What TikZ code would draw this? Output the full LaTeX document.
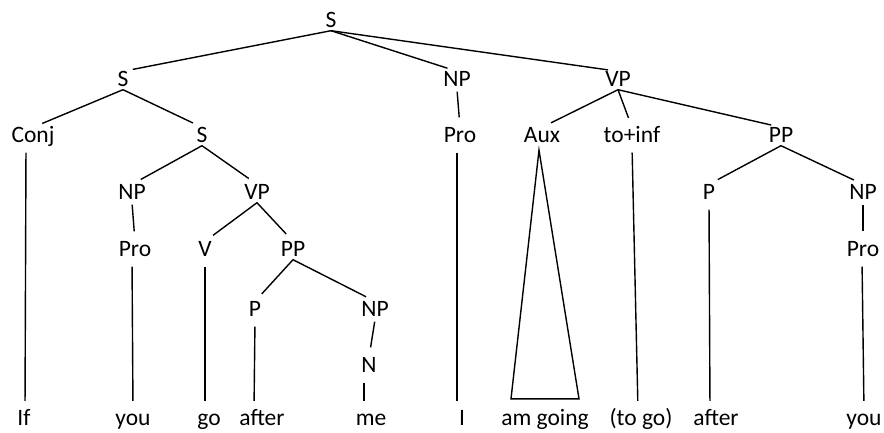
\documentclass[tikz,border=0pt]{standalone}
\usepackage{fontspec}
\setmainfont{Carlito}
\usepackage{tikz}

\begin{document}
\begin{tikzpicture}[x=1pt,y=-1pt,
	cat/.style={anchor=base,inner sep=0pt,text height=15pt,text depth=3pt,font=\fontsize{23.5}{28}\selectfont},
	branch/.style={line width=1.4pt,shorten >=10pt},
	unary/.style={line width=1.4pt,shorten <=2pt,shorten >=10pt},
	stem/.style={line width=1.4pt,shorten <=7pt,shorten >=9pt}]
	\useasboundingbox (0,0) rectangle (884,432);
	%CATEGORIES
	\node[cat] (s0) at (331,27.5) {S};
	%
	\node[cat] (s1) at (123,86.5) {S};
	\node[cat] (np) at (457,86.5) {NP};
	\node[cat] (vp) at (618,86.5) {VP};
	%
	\node[cat] (conj) at (33,142.5) {Conj};
	\node[cat] (s2) at (202,142.5) {S};
	\node[cat] (pro) at (460,142.5) {Pro};
	\node[cat] (aux) at (542,142.5) {Aux};
	\node[cat] (toinf) at (632,142.5) {to+inf};
	\node[cat] (pp) at (781,142.5) {PP};
	%
	\node[cat] (npa) at (132,199.5) {NP};
	\node[cat] (vpa) at (257,199.5) {VP};
	\node[cat] (pb) at (709,199.5) {P};
	\node[cat] (npb) at (863,199.5) {NP};
	%
	\node[cat] (proa) at (135,256.5) {Pro};
	\node[cat] (v) at (205,256.5) {V};
	\node[cat] (ppa) at (293,256.5) {PP};
	\node[cat] (prob) at (863,256.5) {Pro};
	%
	\node[cat] (pa) at (255,316.5) {P};
	\node[cat] (npc) at (375,316.5) {NP};
	\node[cat] (n) at (369,372.5) {N};
	
	%WORDS
	\node[cat] (if) at (24,425) {If};
	\node[cat] (youa) at (133,425) {you};
	\node[cat] (go) at (209,425) {go};
	\node[cat] (aftera) at (262,425) {after};
	\node[cat] (me) at (371,425) {me};
	\node[cat] (i) at (462,425) {I};
	\node[cat] (amgoing) at (545,425) {am going};
	\node[cat] (togo) at (641,425) {(to go)};
	\node[cat] (afterb) at (716,425) {after};
	\node[cat] (youb) at (864,425) {you};
	
	%BRANCHES
	\draw[branch] (s0.south)--(s1.north);
	\draw[branch] (s0.south)--(np.north);
	\draw[branch] (s0.south)--(vp.north);
	\draw[branch] (s1.south)--(conj.north);
	\draw[branch] (s1.south)--(s2.north);
	\draw[branch] (s2.south)--(npa.north);
	\draw[branch] (s2.south)--(vpa.north);
	\draw[branch] (vpa.south)--(v.north);
	\draw[branch] (vpa.south)--(ppa.north);
	\draw[branch] (ppa.south)--(pa.north);
	\draw[branch] (ppa.south)--(npc.north);
	\draw[branch] (vp.south)--(aux.north);
	\draw[branch] (vp.south)--(toinf.north);
	\draw[branch] (vp.south)--(pp.north);
	\draw[branch] (pp.south)--(pb.north);
	\draw[branch] (pp.south)--(npb.north);
	%
	\draw[unary] (np.south)--(pro.north);
	\draw[unary] (npa.south)--(proa.north);
	\draw[unary] (npc.south)--(n.north);
	\draw[unary] (npb.south)--(prob.north);
	
	%STEMS
	\draw[stem] ([xshift=-7pt]conj.south)--([xshift=1pt]if.north);
	\draw[stem] ([xshift=-3pt]proa.south)--(youa.north);
	\draw[stem] (v.south)--([xshift=-4pt]go.north);
	\draw[stem] (pa.south)--([xshift=-8pt]aftera.north);
	\draw[stem] ([xshift=-5pt]n.south)--([xshift=-7pt]me.north);
	\draw[stem] ([xshift=-3pt]pro.south)--([xshift=-5pt]i.north);
	\draw[stem] (toinf.south)--([xshift=-3pt]togo.north);
	\draw[stem] (pb.south)--([xshift=-6pt]afterb.north);
	\draw[stem] ([xshift=-1pt]prob.south)--(youb.north);
	
	%TRIANGLE
	\draw[line width=1.4pt,line join=miter] ([xshift=-3pt,yshift=-4.5pt]aux.south)--([xshift=-34pt,yshift=11pt]amgoing.north)--([xshift=34pt,yshift=11pt]amgoing.north)--cycle;
\end{tikzpicture}
\end{document}
